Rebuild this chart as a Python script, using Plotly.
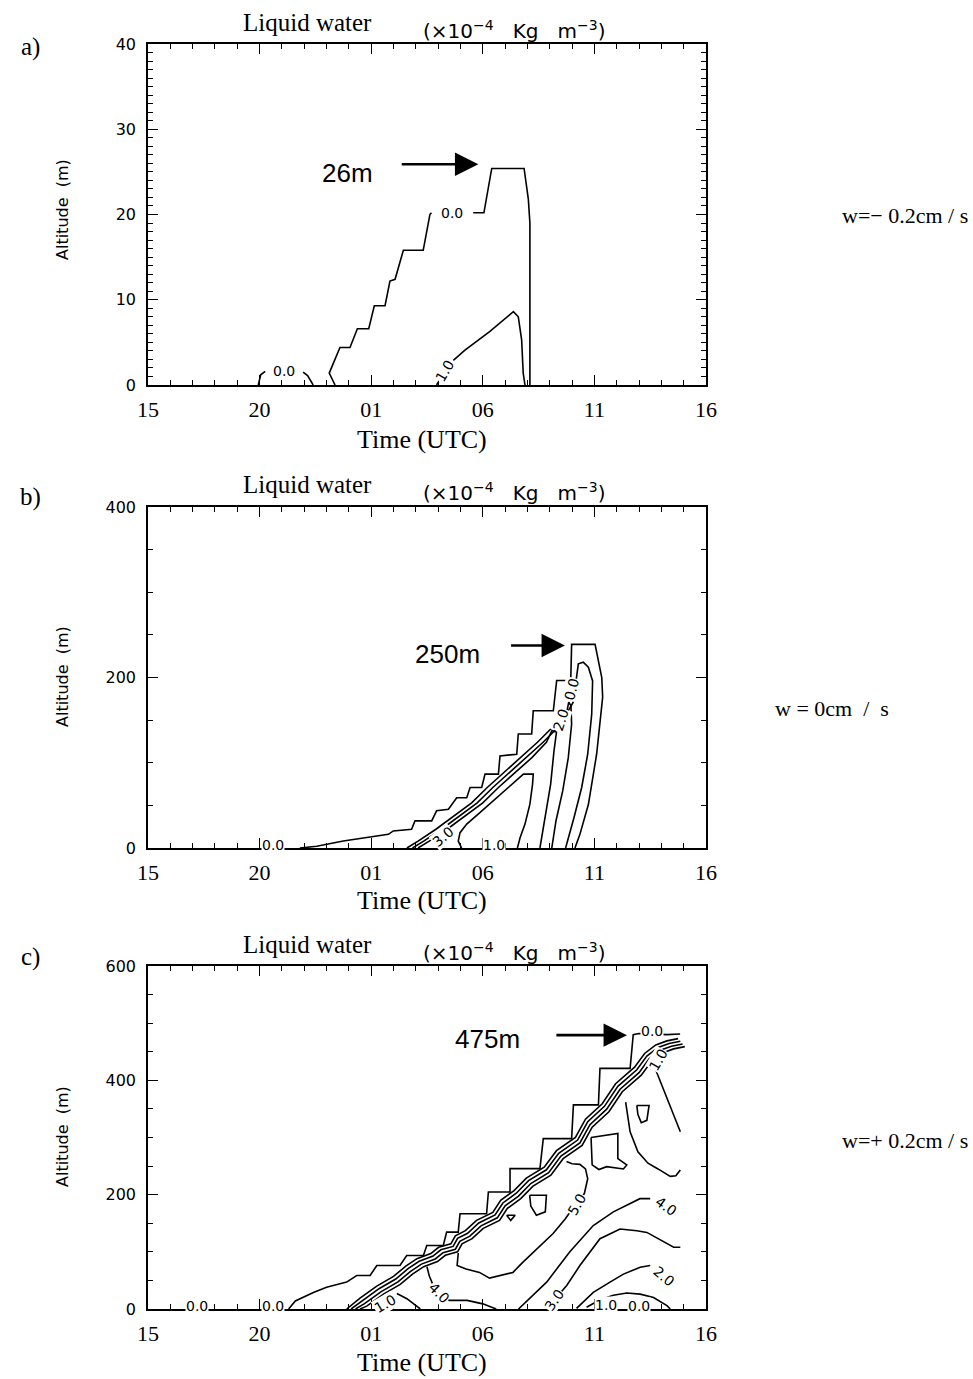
import plotly.graph_objects as go

W, H = 973, 1379

# ---------------- data (time = hours since 15 UTC, altitude in m) ----------------
time_tickvals = [0, 5, 10, 15, 20, 25]
time_ticktext = ["15", "20", "01", "06", "11", "16"]

# Panel a  (w = -0.2 cm/s)
a_c00_t = [8.38, 8.12, 8.6, 9.05, 9.38, 9.89, 10.14, 10.62, 10.84, 11.07, 11.44, 12.33, 12.63, 12.7, None,
           14.57, 15.05, 15.4, 16.85, 17.04, 17.11, 17.11]
a_c00_z = [0, 1.4, 4.4, 4.4, 6.6, 6.6, 9.3, 9.3, 12.2, 12.4, 15.8, 15.8, 20.0, 20.2, None,
           20.2, 20.2, 25.4, 25.4, 21.8, 19.0, 0]
a_c00s_t = [4.94, 5.05, 5.25, None, 6.95, 7.15, 7.4]
a_c00s_z = [0, 1.2, 1.6, None, 1.5, 1.1, 0]
a_c10_t = [12.93, 13.02, None, 13.68, 14.2, 15.32, 16.37, 16.59, 16.74, 16.81, 16.89]
a_c10_z = [0, 0.4, None, 2.9, 4.1, 6.3, 8.6, 8.0, 5.3, 1.4, 0]

# Panel b  (w = 0 cm/s)
b_c0_t = [6.8, 7.56, 8.75, 9.8, 10.77, 10.99, 11.81, 11.96, 12.71, 12.93, 13.46, 13.83, 14.28, 14.43, 14.95,
          15.1, 15.7, 15.77, 16.52, 16.59, 17.19, 17.26, 18.16, 18.31, 18.94, 18.98, 20.03, 20.33, 20.37,
          20.1, 19.73, 19.35, 19.13]
b_c0_z = [0, 2, 8.3, 12, 16, 20, 22, 31.8, 31.8, 43.6, 45.5, 59, 59, 71, 71,
          86.7, 86.7, 108, 110, 133.8, 133.8, 161, 161, 196.5, 196.5, 238.9, 238.9, 200, 177,
          110, 51, 16, 0]
b_c1_t = [11.6, 12.1, 12.9, 13.7, 14.5, 15.2, 15.95, 16.7, 17.45, 18.1, 18.7, 19.05, 19.15, 19.28, 19.5,
          19.73, 19.92, 19.88, 19.7, 19.43, 19.09, 18.83, 18.71]
b_c1_z = [0, 8, 22, 38, 53, 71, 89, 106, 124, 141, 155, 171, 193, 216, 218,
          212, 196, 157, 110, 71, 36, 12, 0]
b_c2_t = [11.85, 12.35, 13.15, 13.95, 14.75, 15.45, 16.2, 16.95, 17.7, 18.35, 18.75, 18.85, 18.95, 18.98,
          18.83, 18.58, 18.28, 18.09]
b_c2_z = [0, 8, 22, 38, 53, 71, 89, 106, 124, 141, 158, 171, 167, 145.5,
          106, 67, 32, 0]
b_c3_t = [12.1, 12.6, 13.4, 14.2, 15.0, 15.7, 16.45, 17.2, 17.85, 18.1, 18.3, 18.19, 18.04, 17.79, 17.64, 17.56]
b_c3_z = [0, 8, 22, 38, 53, 71, 89, 106, 124, 137.7, 135.7, 114, 75, 36, 12, 0]
b_c4_t = [14.05, 13.9, 13.98, 14.28, 14.87, 15.55, 16.22, 16.82, 17.26, 17.23, 17.11, 16.89, 16.67, 16.55]
b_c4_z = [0, 8, 18, 28, 41.6, 57, 73, 86.7, 86.7, 75, 51.4, 28, 12, 0]

# Panel c  (w = +0.2 cm/s)
c_c0_t = [6.3, 6.6, 7.41, 8.0, 8.9, 9.35, 9.95, 10.25, 11.29, 11.59, 12.34, 12.49, 13.23, 13.38, 13.9, 13.98,
          15.17, 15.25, 16.22, 16.22, 17.56, 17.71, 18.98, 19.06, 20.18, 20.25, 21.6, 21.74, 22.0, 23.24, 23.84]
c_c0_z = [0, 14, 29, 38, 47, 58.5, 58.5, 76, 76, 93.6, 93.6, 111, 111, 134.5, 134.5, 166.7,
          166.7, 204.7, 204.7, 245.6, 245.6, 298, 298, 357, 357, 421, 421, 480, 482, 480, 481]
c_bA_t = [8.9, 9.5, 10.25, 11.0, 11.55, 12.05, 12.67, 13.02, 13.57, 13.77, 14.22, 14.72, 15.45, 15.8, 16.4,
          16.95, 17.75, 18.3, 19.15, 19.6, 20.35, 20.95, 21.8, 22.25, 22.75, 23.25, 23.75]
c_bA_z = [0, 19, 40, 57, 75, 88, 97, 108, 114, 128, 137, 155, 169, 190, 207,
          229, 248, 277, 300, 332, 359, 394, 423, 447, 462, 469, 473]
c_bB_t = [9.1, 9.6, 10.35, 11.1, 11.65, 12.15, 12.77, 13.12, 13.67, 13.87, 14.32, 14.82, 15.55, 15.9, 16.5,
          17.05, 17.85, 18.4, 19.25, 19.7, 20.45, 21.05, 21.9, 22.35, 22.85, 23.35, 23.85]
c_bB_z = [0, 14.5, 35.5, 52.5, 70.5, 83.5, 92.5, 103.5, 109.5, 123.5, 132.5, 150.5, 164.5, 185.5, 202.5,
          224.5, 243.5, 272.5, 295.5, 327.5, 354.5, 389.5, 418.5, 442.5, 457.5, 464.5, 468.5]
c_bC_t = [9.3, 9.7, 10.45, 11.2, 11.75, 12.25, 12.87, 13.22, 13.77, 13.97, 14.42, 14.92, 15.65, 16.0, 16.6,
          17.15, 17.95, 18.5, 19.35, 19.8, 20.55, 21.15, 22.0, 22.45, 22.95, 23.45, 23.95]
c_bC_z = [0, 9.5, 30.5, 47.5, 65.5, 78.5, 87.5, 98.5, 104.5, 118.5, 127.5, 145.5, 159.5, 180.5, 197.5,
          219.5, 238.5, 267.5, 290.5, 322.5, 349.5, 384.5, 413.5, 437.5, 452.5, 459.5, 463.5]
c_bD_t = [9.5, 9.8, 10.55, 11.3, 11.85, 12.35, 12.97, 13.32, 13.87, 14.07, 14.52, 15.02, 15.75, 16.1, 16.7,
          17.25, 18.05, 18.6, 19.45, 19.9, 20.65, 21.25, 22.1, 22.55, 23.05, 23.55, 24.05]
c_bD_z = [0, 5, 26, 43, 61, 74, 83, 94, 100, 114, 123, 141, 155, 176, 193,
          215, 234, 263, 286, 318, 345, 380, 409, 433, 448, 455, 459]
c_c5_t = [13.9, 13.85, 14.25, 14.85, 15.3, 15.75, 16.35, 16.8, 17.4, 18.15, 18.7, 19.1, 19.55, 19.7, 19.6,
          19.35, 19.0, 18.75]
c_c5_z = [98, 76, 70, 64, 54, 58, 64, 82, 105, 132, 158, 180, 202, 228, 245, 253, 254, 258]
c_c4f_t = [12.5, 12.6, 12.75, 13.05, 13.5, 14.3, 15.0, 15.6]
c_c4f_z = [74, 58, 44, 28, 15, 15, 9, 0]
c_foot_t = [11.15, 11.6, 12.2]
c_foot_z = [27, 18, 0]
c_c4u_t = [16.6, 17.86, 18.9, 19.95, 20.85, 22.04, 22.5]
c_c4u_z = [0, 47, 100, 146, 170, 193, 193]
c_c3_t = [17.9, 18.3, 18.76, 19.35, 20.25, 21.15, 21.9, 22.35, 23.55, 23.85]
c_c3_z = [5, 20, 41, 76, 123, 140, 137, 134, 108, 108]
c_c2_t = [19.2, 19.95, 20.7, 21.3, 22.05, 22.5]
c_c2_z = [1, 29, 47, 61, 73, 76]
c_c1_t = [19.65, 20.25, 20.85, 21.45, 22.05, 22.65, 23.25, 23.4]
c_c1_z = [3, 16, 24, 28, 26, 20, 6, 0]
c_la_t = [21.9, 22.45, 22.35, 22.1, 21.95, 21.9]
c_la_z = [356, 356, 330, 326, 340, 356]
c_lb_t = [17.1, 17.85, 17.8, 17.4, 17.15, 17.1]
c_lb_z = [199, 199, 170, 164, 180, 199]
c_lc_t = [16.07, 16.45, 16.25, 16.07]
c_lc_z = [164, 164, 155, 164]
c_ld_t = [19.85, 20.4, 21.05, 21.05, 21.45, 21.3, 20.55, 20.2, 19.9, 19.85]
c_ld_z = [300, 303, 307, 263, 252, 245, 249, 244, 252, 300]
c_r1_t = [21.4, 21.6, 21.95, 22.4, 22.85, 23.4, 23.65, 23.85]
c_r1_z = [362, 310, 275, 255, 245, 232, 233, 243]
c_r2_t = [22.75, 23.35, 23.85]
c_r2_z = [418, 360, 310]

panels = [
    ("x", "y", [(a_c00_t, a_c00_z), (a_c00s_t, a_c00s_z), (a_c10_t, a_c10_z)]),
    ("x2", "y2", [(b_c0_t, b_c0_z), (b_c1_t, b_c1_z), (b_c2_t, b_c2_z), (b_c3_t, b_c3_z), (b_c4_t, b_c4_z)]),
    ("x3", "y3", [(c_c0_t, c_c0_z), (c_bA_t, c_bA_z), (c_bB_t, c_bB_z), (c_bC_t, c_bC_z), (c_bD_t, c_bD_z),
                  (c_c5_t, c_c5_z), (c_c4f_t, c_c4f_z), (c_foot_t, c_foot_z), (c_c4u_t, c_c4u_z),
                  (c_c3_t, c_c3_z), (c_c2_t, c_c2_z), (c_c1_t, c_c1_z), (c_la_t, c_la_z),
                  (c_lb_t, c_lb_z), (c_lc_t, c_lc_z), (c_ld_t, c_ld_z), (c_r1_t, c_r1_z), (c_r2_t, c_r2_z)]),
]

# contour labels: (axis-suffix, t, z, text, angle)
contour_labels = [
    ("", 6.1, 1.6, "0.0", 0), ("", 13.6, 20.2, "0.0", 0), ("", 13.3, 1.6, "1.0", -60),
    ("2", 5.6, 4, "0.0", 0), ("2", 18.5, 150, "2.0", -72), ("2", 19.0, 186, "0.0", -75),
    ("2", 13.2, 13, "3.0", -40), ("2", 15.5, 4, "1.0", 0),
    ("3", 2.2, 5, "0.0", 0), ("3", 5.6, 5, "0.0", 0), ("3", 10.6, 9, "1.0", -30),
    ("3", 13.05, 28, "4.0", 45), ("3", 19.2, 182, "5.0", -60), ("3", 23.2, 180, "4.0", 35),
    ("3", 18.2, 16, "3.0", -55), ("3", 23.1, 58, "2.0", 40), ("3", 20.5, 7, "1.0", 0),
    ("3", 22.0, 6, "0.0", 0), ("3", 22.6, 486, "0.0", 0), ("3", 22.85, 436, "1.0", -60),
]

# top-level markers: (axis suffix, label text, label t, label z, arrow start t, arrow end t, arrow z)
top_markers = [
    ("", "26m", 8.92, 24.9, 11.3, 14.8, 25.9),
    ("2", "250m", 13.44, 228, 16.2, 18.68, 237.6),
    ("3", "475m", 15.23, 472, 18.23, 21.46, 479),
]

y_ranges = [[0, 40], [0, 400], [0, 600]]
y_dticks = [10, 200, 200]
y_minor = [1, 50, 50]
panel_letters = ["a)", "b)", "c)"]
nb = "\u00a0"
w_labels = ["w=\u2212 0.2cm / s", "w" + nb + "=" + nb + "0cm" + nb * 2 + "/" + nb * 2 + "s", "w=+ 0.2cm / s"]

# ---------------- layout geometry (pixels) ----------------
frame_left, frame_right = 148, 706
frame_tops = [44, 507, 966]
frame_bottoms = [385, 848, 1309]


def px(x):
    return x / W


def py(y):
    return 1 - y / H


fig = go.Figure()
for xa, ya, lines in panels:
    for tt, zz in lines:
        fig.add_trace(go.Scatter(x=tt, y=zz, mode="lines", xaxis=xa, yaxis=ya,
                                 line=dict(color="black", width=1.6),
                                 showlegend=False, hoverinfo="skip", connectgaps=False))

layout = dict(width=W, height=H, margin=dict(l=0, r=0, t=0, b=0, pad=0, autoexpand=False),
              paper_bgcolor="white", plot_bgcolor="white", showlegend=False)

for i in range(3):
    s = "" if i == 0 else str(i + 1)
    layout["xaxis" + s] = dict(
        domain=[px(frame_left), px(frame_right)], range=[0, 25], anchor="y" + s,
        tickmode="array", tickvals=time_tickvals, ticktext=time_ticktext,
        ticks="inside", ticklen=10, tickwidth=1.3, tickcolor="black",
        minor=dict(tickmode="linear", tick0=0, dtick=1, ticks="inside", ticklen=5,
                   tickwidth=1, tickcolor="black"),
        showline=True, linecolor="black", linewidth=1.6, mirror="ticks",
        showgrid=False, zeroline=False, ticklabelstandoff=4, automargin=False,
        tickfont=dict(family="Liberation Serif", size=22, color="black"))
    layout["yaxis" + s] = dict(
        domain=[py(frame_bottoms[i]), py(frame_tops[i])], range=y_ranges[i], anchor="x" + s,
        tickmode="linear", tick0=0, dtick=y_dticks[i],
        ticks="inside", ticklen=10, tickwidth=1.3, tickcolor="black",
        minor=dict(tickmode="linear", tick0=0, dtick=y_minor[i], ticks="inside", ticklen=5,
                   tickwidth=1, tickcolor="black"),
        showline=True, linecolor="black", linewidth=1.6, mirror="ticks",
        showgrid=False, zeroline=False, ticklabelstandoff=7, automargin=False,
        tickfont=dict(family="DejaVu Sans", size=16, color="black"))

ann = []
serif = "Liberation Serif"
title_y = [22, 484, 944]
ttl_y = [439, 900, 1362]
alt_y = [210, 677, 1137]
w_pos = [(905, 215), (832, 708), (905, 1140)]
letter_y = [47, 497, 957]


def ptext(text, x, y, font, angle=0):
    return dict(text=text, x=px(x), y=py(y), xref="paper", yref="paper", showarrow=False,
                xanchor="center", yanchor="middle", textangle=angle, font=font)


for i in range(3):
    ann.append(ptext(panel_letters[i], 30, letter_y[i], dict(family=serif, size=25, color="black")))
    ann.append(ptext("Liquid water", 307, title_y[i], dict(family=serif, size=25, color="black")))
    ann.append(ptext("(\u00d710<sup>\u22124</sup>" + nb * 3 + "Kg" + nb * 3 + "m<sup>\u22123</sup>)",
                     514, title_y[i] + 8, dict(family="DejaVu Sans", size=20, color="black")))
    ann.append(ptext("Time (UTC)", 422, ttl_y[i], dict(family=serif, size=26, color="black")))
    ann.append(ptext("Altitude" + nb * 2 + "(m)", 62, alt_y[i],
                     dict(family="DejaVu Sans", size=16, color="black"), angle=-90))
    ann.append(ptext(w_labels[i], w_pos[i][0], w_pos[i][1], dict(family=serif, size=22, color="black")))

for s, t, z, txt, ang in contour_labels:
    ann.append(dict(text=txt, x=t, y=z, xref="x" + s, yref="y" + s, showarrow=False,
                    xanchor="center", yanchor="middle",
                    textangle=ang, bgcolor="white", borderpad=0,
                    font=dict(family="DejaVu Sans", size=14, color="black")))

for s, txt, lt, lz, t0, t1, za in top_markers:
    ann.append(dict(text=txt, x=lt, y=lz, xref="x" + s, yref="y" + s, showarrow=False,
                    xanchor="center", yanchor="middle",
                    font=dict(family="Liberation Sans", size=26, color="black")))
    ann.append(dict(text="", x=t1, y=za, ax=t0, ay=za, xref="x" + s, yref="y" + s,
                    axref="x" + s, ayref="y" + s, showarrow=True, arrowhead=2,
                    arrowsize=1.8, arrowwidth=2.6, arrowcolor="black"))

layout["annotations"] = ann
fig.update_layout(**layout)
fig.write_html("out.html", config={"displayModeBar": False},
               post_script="document.body.style.margin='0px';document.body.style.overflow='hidden';")
